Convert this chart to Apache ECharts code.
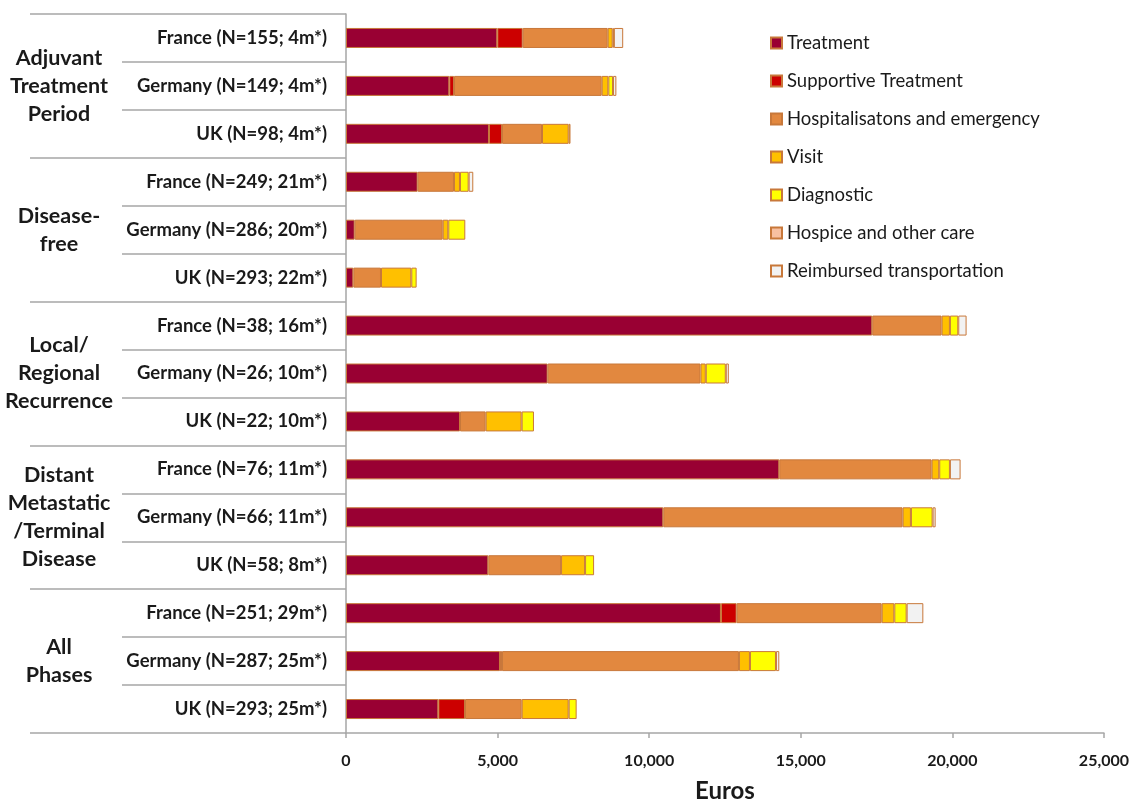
<!DOCTYPE html>
<html>
<head>
<meta charset="utf-8">
<script src="https://cdn.jsdelivr.net/npm/echarts@6/dist/echarts.min.js"></script>
<style>
  html, body { margin: 0; padding: 0; background: #fff; }
  #chart { width: 1132px; height: 808px; }
</style>
</head>
<body>
<div id="chart"></div>
<script>
const rows = [
  'France (N=155; 4m*)', 'Germany (N=149; 4m*)', 'UK (N=98; 4m*)',
  'France (N=249; 21m*)', 'Germany (N=286; 20m*)', 'UK (N=293; 22m*)',
  'France (N=38; 16m*)', 'Germany (N=26; 10m*)', 'UK (N=22; 10m*)',
  'France (N=76; 11m*)', 'Germany (N=66; 11m*)', 'UK (N=58; 8m*)',
  'France (N=251; 29m*)', 'Germany (N=287; 25m*)', 'UK (N=293; 25m*)'
];
const phases = [
  'Adjuvant\nTreatment\nPeriod',
  'Disease-\nfree',
  'Local/\nRegional\nRecurrence',
  'Distant\nMetastatic\n/Terminal\nDisease',
  'All\nPhases'
];
const costNames = [
  'Treatment', 'Supportive Treatment', 'Hospitalisatons and emergency',
  'Visit', 'Diagnostic', 'Hospice and other care', 'Reimbursed transportation'
];
const treatment = [4990, 3408, 4716, 2364, 287, 242, 17358, 6652, 3760, 14292, 10465, 4694, 12368, 5079, 3045];
const supportive = [838, 155, 429, 0, 0, 0, 0, 0, 0, 0, 0, 0, 517, 66, 880];
const hospital = [2803, 4870, 1320, 1197, 2902, 912, 2287, 5040, 846, 5023, 7894, 2400, 4783, 7816, 1869];
const visit = [165, 220, 880, 198, 185, 1000, 275, 175, 1187, 253, 275, 792, 418, 363, 1550];
const diagnostic = [40, 155, 60, 287, 561, 176, 275, 660, 407, 352, 715, 297, 407, 858, 264];
const hospice = [0, 0, 0, 0, 0, 0, 0, 0, 0, 0, 0, 0, 0, 0, 0];
const transport = [307, 110, 0, 152, 0, 0, 275, 100, 0, 352, 100, 0, 550, 110, 0];
const xTicks = [0, 5000, 10000, 15000, 20000, 25000];

const colors = ['#990033', '#cc0000', '#e2883f', '#ffc000', '#ffff00', '#f8c0a0', '#f2f2f2'];
const values = [treatment, supportive, hospital, visit, diagnostic, hospice, transport];
const font = 'Lato, "Open Sans", sans-serif';
const lineColor = '#a6a6a6';

const chart = echarts.init(document.getElementById('chart'));
chart.setOption({
  animation: false,
  textStyle: { fontFamily: font },
  grid: { left: 346, right: 28, top: 14, bottom: 66, containLabel: false },
  legend: {
    orient: 'vertical',
    left: 765,
    top: 28,
    itemWidth: 11,
    itemHeight: 11,
    itemGap: 18,
    icon: 'rect',
    textStyle: { fontSize: 18.5, lineHeight: 20, color: '#1a1a1a', fontFamily: font },
    data: costNames
  },
  xAxis: {
    type: 'value',
    min: xTicks[0],
    max: xTicks[xTicks.length - 1],
    interval: 5000,
    name: 'Euros',
    nameLocation: 'middle',
    nameGap: 46,
    nameTextStyle: { fontSize: 24, fontWeight: 'bold', color: '#1a1a1a' },
    axisLine: { show: true, lineStyle: { color: lineColor, width: 1.5 } },
    axisTick: { show: true, length: 5, lineStyle: { color: lineColor, width: 1.5 } },
    axisLabel: {
      margin: 20, fontSize: 16, fontWeight: 'bold', color: '#1a1a1a',
      formatter: v => v.toLocaleString('en-US')
    },
    splitLine: { show: false }
  },
  yAxis: [
    {
      type: 'category',
      inverse: true,
      data: rows,
      position: 'left',
      axisLine: { show: true, lineStyle: { color: lineColor, width: 1.5 } },
      axisTick: { show: true, interval: 0, length: 224, lineStyle: { color: lineColor, width: 1.5 } },
      axisLabel: { interval: 0, margin: 19, fontSize: 18.5, fontWeight: 'bold', color: '#1a1a1a' }
    },
    {
      type: 'category',
      inverse: true,
      data: phases,
      position: 'left',
      axisLine: { show: false },
      axisTick: { show: true, interval: 0, length: 316, lineStyle: { color: lineColor, width: 1.5 } },
      axisLabel: {
        interval: 0, margin: 287, align: 'center',
        fontSize: 21.5, lineHeight: 28, fontWeight: 'bold', color: '#1a1a1a'
      }
    }
  ],
  series: costNames.map((name, i) => ({
    name: name,
    type: 'bar',
    stack: 'cost',
    yAxisIndex: 0,
    barWidth: 20,
    itemStyle: { color: colors[i], borderColor: '#c8783a', borderWidth: 1 },
    data: values[i].map(v => (v > 0 ? v : '-'))
  }))
});
</script>
</body>
</html>
